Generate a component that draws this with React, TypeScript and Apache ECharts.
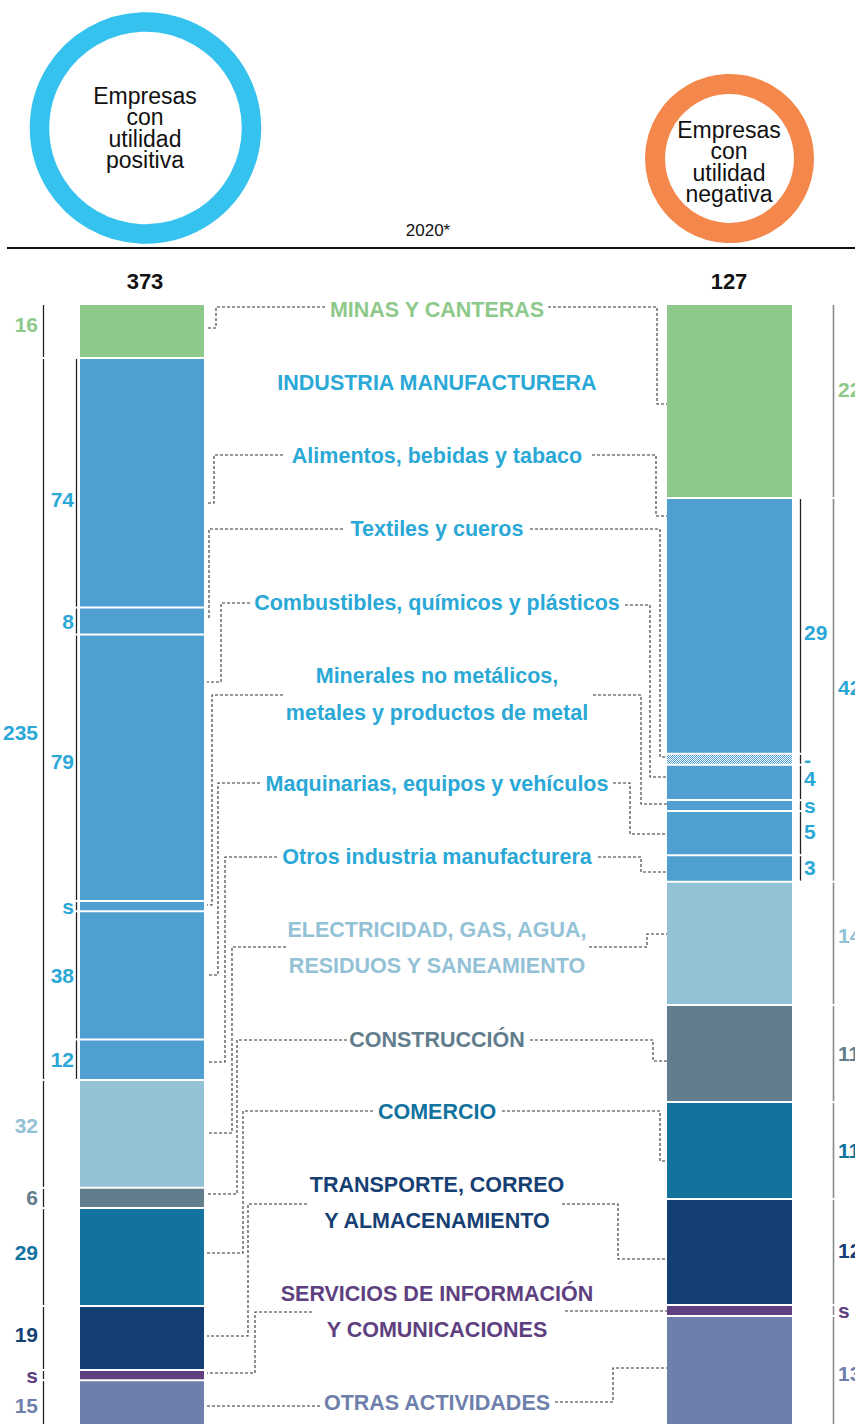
import React, { useEffect, useRef } from "react";
import * as echarts from "echarts";

// ---------- DATA ----------
const sectorNames = [
  "MINAS Y CANTERAS",
  "INDUSTRIA MANUFACTURERA",
  "ELECTRICIDAD, GAS, AGUA,\nRESIDUOS Y SANEAMIENTO",
  "CONSTRUCCIÓN",
  "COMERCIO",
  "TRANSPORTE, CORREO\nY ALMACENAMIENTO",
  "SERVICIOS DE INFORMACIÓN\nY COMUNICACIONES",
  "OTRAS ACTIVIDADES",
];
const positiveBySector: (number | string)[] = [16, 235, 32, 6, 29, 19, "s", 15];
const negativeBySector: (number | string)[] = [22, 42, 14, 11, 11, 12, "s", 13];

const manufacturingNames = [
  "Alimentos, bebidas y tabaco",
  "Textiles y cueros",
  "Combustibles, químicos y plásticos",
  "Minerales no metálicos,\nmetales y productos de metal",
  "Maquinarias, equipos y vehículos",
  "Otros industria manufacturera",
];
const positiveManufacturing: (number | string)[] = [74, 8, 79, "s", 38, 12];
const negativeManufacturing: (number | string)[] = [29, "-", 4, "s", 5, 3];

const totals = [373, 127];
const groupNames = ["Empresas\ncon\nutilidad\npositiva", "Empresas\ncon\nutilidad\nnegativa"];
const yearLabel = "2020*";

// estimated drawn size of suppressed ("s") or nil ("-") cells
const placeholderSize = [3, 1.25];

// ---------- STYLE / LAYOUT ----------
const sectorColors = ["#8dc98a", "#4f9fd1", "#93c1d5", "#627d8c", "#12739f", "#143f73", "#5e3f80", "#6e7fab"];
const sectorTextColors = ["#8dc98a", "#2aa8d6", "#93c1d6", "#627d8c", "#12739f", "#163f73", "#5e3f80", "#6e7fab"];
const ringColors = ["#35c2ee", "#f4874b"];
const sectorLabelY = [310, 383, 948, 1040, 1112, 1203, 1312, 1403];
const subLabelY = [456, 529, 603, 694, 784, 857];
const sectorShift = [
  [-6, 14, -8, 0, -5, -3, 0, 0],
  [-12, -2, -8, 0, 0, -2, 0, 0],
];
const subShift = [
  [17, 0, -6, 0, 0, 0],
  [7, 0, -4, 0, -2, -1],
];
const FONT = '"Liberation Sans", Arial, Helvetica, sans-serif';

type P = [number, number][];
const sectorConnectors: { l: P; r: P }[] = [
  { l: [[325, 307], [216, 307], [216, 328], [207, 328]], r: [[548, 307], [657, 307], [657, 404], [667, 404]] },
  { l: [], r: [] },
  { l: [[286, 947], [232, 947], [232, 1133], [207, 1133]], r: [[589, 947], [647, 947], [647, 934], [667, 934]] },
  { l: [[347, 1040], [237, 1040], [237, 1194], [207, 1194]], r: [[530, 1040], [653, 1040], [653, 1061], [667, 1061]] },
  { l: [[373, 1111], [243, 1111], [243, 1253], [207, 1253]], r: [[502, 1111], [660, 1111], [660, 1161], [667, 1161]] },
  { l: [[307, 1204], [248, 1204], [248, 1336], [207, 1336]], r: [[562, 1204], [618, 1204], [618, 1259], [667, 1259]] },
  { l: [[312, 1312], [255, 1312], [255, 1373], [207, 1373]], r: [[565, 1311], [667, 1311]] },
  { l: [[320, 1406], [207, 1406]], r: [[555, 1402], [613, 1402], [613, 1368], [667, 1368]] },
];
const subConnectors: { l: P; r: P }[] = [
  { l: [[283, 455], [214, 455], [214, 503], [207, 503]], r: [[592, 455], [656, 455], [656, 516], [667, 516]] },
  { l: [[343, 529], [209, 529], [209, 618], [207, 618]], r: [[530, 529], [660, 529], [660, 757], [667, 757]] },
  { l: [[250, 603], [221, 603], [221, 682], [207, 682]], r: [[625, 605], [650, 605], [650, 777], [667, 777]] },
  { l: [[283, 695], [212, 695], [212, 905], [207, 905]], r: [[593, 695], [641, 695], [641, 804], [667, 804]] },
  { l: [[260, 783], [218, 783], [218, 975], [207, 975]], r: [[613, 783], [630, 783], [630, 834], [667, 834]] },
  { l: [[277, 857], [225, 857], [225, 1062], [207, 1062]], r: [[598, 857], [641, 857], [641, 872], [667, 872]] },
];

type Seg = { start: number; end: number; sector: number; sub: number; label: string };

function buildColumn(sectorVals: (number | string)[], subVals: (number | string)[], ph: number) {
  const segs: Seg[] = [];
  const sectors: Seg[] = [];
  let cum = 0;
  sectorVals.forEach((v, i) => {
    const s0 = cum;
    if (i === 1) {
      subVals.forEach((sv, j) => {
        const h = typeof sv === "number" ? sv : ph;
        segs.push({ start: cum, end: cum + h, sector: i, sub: j, label: String(sv) });
        cum += h;
      });
    } else {
      const h = typeof v === "number" ? v : ph;
      segs.push({ start: cum, end: cum + h, sector: i, sub: -1, label: String(v) });
      cum += h;
    }
    sectors.push({ start: s0, end: cum, sector: i, sub: -1, label: String(v) });
  });
  return { segs, sectors };
}

function txt(text: string, x: number, y: number, fill: string, font: string, align = "center", extra: any = {}) {
  return {
    type: "text",
    x,
    y,
    style: {
      text,
      fill,
      font,
      align,
      textAlign: align,
      verticalAlign: "middle",
      textVerticalAlign: "middle",
      ...extra,
    },
  };
}

export default function App() {
  const ref = useRef<HTMLDivElement>(null);
  useEffect(() => {
    if (!ref.current) return;
    const chart = echarts.init(ref.current, undefined, { renderer: "svg" });

    // dotted pattern for "-" cell
    const cv = document.createElement("canvas");
    cv.width = 2;
    cv.height = 2;
    const cx = cv.getContext("2d");
    if (cx) {
      cx.fillStyle = "#4f9fd1";
      cx.fillRect(0, 0, 2, 2);
      cx.fillStyle = "#ffffff";
      cx.fillRect(0, 0, 1, 1);
      cx.fillRect(1, 1, 1, 1);
    }
    const hatch: any = { image: cv, repeat: "repeat", imageWidth: 2, imageHeight: 2 };

    const columns = [
      buildColumn(positiveBySector, positiveManufacturing, placeholderSize[0]),
      buildColumn(negativeBySector, negativeManufacturing, placeholderSize[1]),
    ];

    const numFont = `bold 21px ${FONT}`;
    const series: any[] = [];
    columns.forEach((col, c) => {
      series.push({
        type: "custom",
        name: c === 0 ? "positiva" : "negativa",
        xAxisIndex: c,
        yAxisIndex: c,
        clip: false,
        encode: { x: 0, y: [1, 2] },
        data: col.segs.map((s) => [0, s.start, s.end]),
        renderItem: (params: any, api: any) => {
          const seg = col.segs[params.dataIndex];
          const p0 = api.coord([0, seg.start]);
          const p1 = api.coord([0, seg.end]);
          const bw = api.size([1, 0])[0];
          const x = p0[0] - bw / 2;
          const y0 = p0[1] + 1;
          const y1 = p1[1] - 1;
          const fill = seg.label === "-" ? hatch : sectorColors[seg.sector];
          const children: any[] = [
            { type: "rect", shape: { x, y: y0, width: bw, height: Math.max(y1 - y0, 1) }, style: { fill } },
          ];
          if (seg.sub >= 0) {
            const lx = c === 0 ? x - 3.5 : x + bw + 8.5;
            children.push({
              type: "line",
              shape: { x1: lx, y1: y0, x2: lx, y2: y1 },
              style: { stroke: "#222", lineWidth: 1.3 },
            });
            const tx = c === 0 ? x - 6 : x + bw + 12;
            children.push(
              txt(seg.label, tx, (y0 + y1) / 2 + subShift[c][seg.sub], sectorTextColors[seg.sector], numFont, c === 0 ? "right" : "left")
            );
          }
          return { type: "group", children };
        },
      });
      series.push({
        type: "custom",
        name: c === 0 ? "sectores positiva" : "sectores negativa",
        xAxisIndex: c,
        yAxisIndex: c,
        clip: false,
        encode: { x: 0, y: [1, 2] },
        data: col.sectors.map((s) => [0, s.start, s.end]),
        renderItem: (params: any, api: any) => {
          const sec = col.sectors[params.dataIndex];
          const p0 = api.coord([0, sec.start]);
          const p1 = api.coord([0, sec.end]);
          const bw = api.size([1, 0])[0];
          const x = p0[0] - bw / 2;
          const y0 = p0[1] + 1;
          const y1 = p1[1] - 1;
          const lx = c === 0 ? x - 36.5 : x + bw + 41.5;
          const tx = c === 0 ? x - 42 : x + bw + 46;
          return {
            type: "group",
            children: [
              {
                type: "line",
                shape: { x1: lx, y1: y0, x2: lx, y2: y1 },
                style: { stroke: c === 0 ? "#222" : "#8a8a8a", lineWidth: c === 0 ? 1.3 : 1.6 },
              },
              txt(sec.label, tx, (y0 + y1) / 2 + sectorShift[c][sec.sector], sectorTextColors[sec.sector], numFont, c === 0 ? "right" : "left"),
            ],
          };
        },
      });
    });

    const labelFont = `bold 21.5px ${FONT}`;
    const graphics: any[] = [];
    // rings
    graphics.push({
      type: "circle",
      shape: { cx: 145.5, cy: 128, r: 106 },
      style: { fill: "none", stroke: ringColors[0], lineWidth: 19.5 },
    });
    graphics.push({
      type: "circle",
      shape: { cx: 729.5, cy: 158.5, r: 74.5 },
      style: { fill: "none", stroke: ringColors[1], lineWidth: 20 },
    });
    graphics.push(txt(groupNames[0], 145, 128, "#111", `23px ${FONT}`, "center", { lineHeight: 21.5 }));
    graphics.push(txt(groupNames[1], 729, 162, "#111", `23px ${FONT}`, "center", { lineHeight: 21.5 }));
    graphics.push(txt(yearLabel, 428, 230, "#111", `17px ${FONT}`));
    graphics.push({ type: "line", shape: { x1: 7, y1: 248, x2: 855, y2: 248 }, style: { stroke: "#111", lineWidth: 2 } });
    graphics.push(txt(String(totals[0]), 145, 281, "#111", `bold 22px ${FONT}`));
    graphics.push(txt(String(totals[1]), 729, 281, "#111", `bold 22px ${FONT}`));

    const dash = (pts: P) =>
      pts.length
        ? {
            type: "polyline",
            shape: { points: pts },
            style: { fill: null, stroke: "#333", lineWidth: 1.1, lineDash: [3, 2] },
          }
        : null;

    sectorNames.forEach((name, i) => {
      graphics.push(txt(name, 437, sectorLabelY[i], sectorTextColors[i], labelFont, "center", { lineHeight: 36.5 }));
      const a = dash(sectorConnectors[i].l);
      const b = dash(sectorConnectors[i].r);
      if (a) graphics.push(a);
      if (b) graphics.push(b);
    });
    manufacturingNames.forEach((name, i) => {
      graphics.push(txt(name, 437, subLabelY[i], sectorTextColors[1], labelFont, "center", { lineHeight: 37 }));
      const a = dash(subConnectors[i].l);
      const b = dash(subConnectors[i].r);
      if (a) graphics.push(a);
      if (b) graphics.push(b);
    });

    chart.setOption({
      animation: false,
      backgroundColor: "#ffffff",
      grid: [
        { left: 80, top: 304, width: 124, height: 1120 },
        { left: 667, top: 304, width: 125, height: 1120 },
      ],
      xAxis: [
        { type: "category", gridIndex: 0, data: [groupNames[0]], show: false },
        { type: "category", gridIndex: 1, data: [groupNames[1]], show: false },
      ],
      yAxis: [
        { type: "value", gridIndex: 0, min: 0, max: 332, inverse: true, show: false },
        { type: "value", gridIndex: 1, min: 0, max: 127, inverse: true, show: false },
      ],
      series,
      graphic: { elements: graphics },
    });
    return () => chart.dispose();
  }, []);
  return (
    <div
      ref={ref}
      style={{ position: "absolute", left: 0, top: 0, width: 855, height: 1424, background: "#fff" }}
    />
  );
}
